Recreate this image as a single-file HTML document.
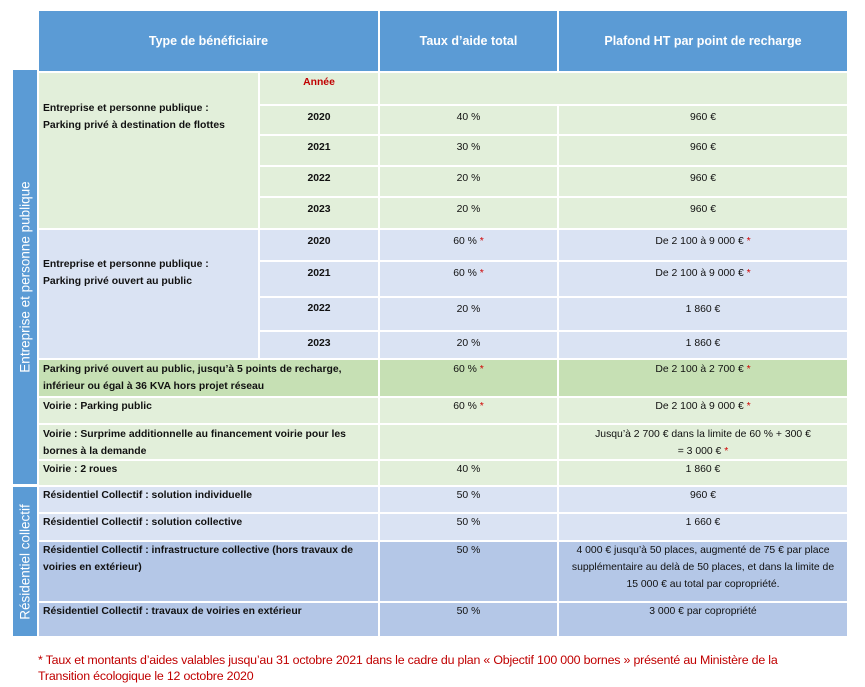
<!DOCTYPE html>
<html><head><meta charset="utf-8"><style>
body{margin:0;width:865px;height:687px;background:#fff;position:relative;overflow:hidden;font-family:"Liberation Sans",sans-serif}
.c{position:absolute;box-sizing:border-box;border:1px solid #fff;font-size:10.4px;color:#111;line-height:17px;padding:3px 0 0 4px;white-space:nowrap}
.b{font-weight:bold}
.ct{text-align:center;padding-left:0}
.h{background:#5b9bd5;color:#fff;font-weight:bold;font-size:12.5px;text-align:center;line-height:60px;padding:0}
.g{background:#e2efda}.dg{background:#c6e0b4}.lb{background:#dae3f3}.db{background:#b4c7e7}
.s{color:#d00000}
.side{position:absolute;background:#5b9bd5;color:#fff;font-size:13.5px}
.side span{position:absolute;left:50%;top:50%;transform:translate(-50%,-50%) rotate(-90deg);white-space:nowrap}
.fn{position:absolute;left:38px;color:#c00000;font-size:12.4px;white-space:nowrap;letter-spacing:-0.2px}
</style></head><body>
<div class="c h" style="left:38px;top:10px;width:341px;height:62px">Type de bénéficiaire</div>
<div class="c h" style="left:379px;top:10px;width:179px;height:62px">Taux d’aide total</div>
<div class="c h" style="left:558px;top:10px;width:290px;height:62px">Plafond HT par point de recharge</div>

<div class="side" style="left:13px;top:70px;width:24px;height:414px"><span>Entreprise et personne publique</span></div>
<div class="side" style="left:13px;top:487px;width:24px;height:149px"><span>Résidentiel collectif</span></div>

<div class="c g b" style="left:38px;top:72px;width:221px;height:157px;padding-top:27px">Entreprise et personne publique :<br>Parking privé à destination de flottes</div>
<div class="c g b ct s" style="left:259px;top:72px;width:120px;height:33px;padding-top:1px;color:#c00000">Année</div>
<div class="c g" style="left:379px;top:72px;width:469px;height:33px"></div>
<div class="c g b ct" style="left:259px;top:105px;width:120px;height:30px">2020</div>
<div class="c g ct" style="left:379px;top:105px;width:179px;height:30px">40 %</div>
<div class="c g ct" style="left:558px;top:105px;width:290px;height:30px">960 €</div>
<div class="c g b ct" style="left:259px;top:135px;width:120px;height:31px">2021</div>
<div class="c g ct" style="left:379px;top:135px;width:179px;height:31px">30 %</div>
<div class="c g ct" style="left:558px;top:135px;width:290px;height:31px">960 €</div>
<div class="c g b ct" style="left:259px;top:166px;width:120px;height:31px">2022</div>
<div class="c g ct" style="left:379px;top:166px;width:179px;height:31px">20 %</div>
<div class="c g ct" style="left:558px;top:166px;width:290px;height:31px">960 €</div>
<div class="c g b ct" style="left:259px;top:197px;width:120px;height:32px">2023</div>
<div class="c g ct" style="left:379px;top:197px;width:179px;height:32px">20 %</div>
<div class="c g ct" style="left:558px;top:197px;width:290px;height:32px">960 €</div>

<div class="c lb b" style="left:38px;top:229px;width:221px;height:130px;padding-top:26px">Entreprise et personne publique :<br>Parking privé ouvert au public</div>
<div class="c lb b ct" style="left:259px;top:229px;width:120px;height:32px">2020</div>
<div class="c lb ct" style="left:379px;top:229px;width:179px;height:32px">60 % <span class="s">*</span></div>
<div class="c lb ct" style="left:558px;top:229px;width:290px;height:32px">De 2 100 à 9 000 € <span class="s">*</span></div>
<div class="c lb b ct" style="left:259px;top:261px;width:120px;height:36px">2021</div>
<div class="c lb ct" style="left:379px;top:261px;width:179px;height:36px">60 % <span class="s">*</span></div>
<div class="c lb ct" style="left:558px;top:261px;width:290px;height:36px">De 2 100 à 9 000 € <span class="s">*</span></div>
<div class="c lb b ct" style="left:259px;top:297px;width:120px;height:34px;padding-top:2px">2022</div>
<div class="c lb ct" style="left:379px;top:297px;width:179px;height:34px">20 %</div>
<div class="c lb ct" style="left:558px;top:297px;width:290px;height:34px">1 860 €</div>
<div class="c lb b ct" style="left:259px;top:331px;width:120px;height:28px">2023</div>
<div class="c lb ct" style="left:379px;top:331px;width:179px;height:28px">20 %</div>
<div class="c lb ct" style="left:558px;top:331px;width:290px;height:28px">1 860 €</div>

<div class="c dg b" style="left:38px;top:359px;width:341px;height:38px;padding-top:1px">Parking privé ouvert au public, jusqu’à 5 points de recharge,<br>inférieur ou égal à 36 KVA hors projet réseau</div>
<div class="c dg ct" style="left:379px;top:359px;width:179px;height:38px;padding-top:1px">60 % <span class="s">*</span></div>
<div class="c dg ct" style="left:558px;top:359px;width:290px;height:38px;padding-top:1px">De 2 100 à 2 700 € <span class="s">*</span></div>

<div class="c g b" style="left:38px;top:397px;width:341px;height:27px;padding-top:0">Voirie : Parking public</div>
<div class="c g ct" style="left:379px;top:397px;width:179px;height:27px;padding-top:0">60 % <span class="s">*</span></div>
<div class="c g ct" style="left:558px;top:397px;width:290px;height:27px;padding-top:0">De 2 100 à 9 000 € <span class="s">*</span></div>

<div class="c g b" style="left:38px;top:424px;width:341px;height:36px;padding-top:1px">Voirie : Surprime additionnelle  au financement voirie pour  les<br>bornes à la demande</div>
<div class="c g ct" style="left:379px;top:424px;width:179px;height:36px"></div>
<div class="c g ct" style="left:558px;top:424px;width:290px;height:36px;padding-top:1px">Jusqu’à 2 700 € dans la limite de 60 % + 300 €<br>= 3 000 € <span class="s">*</span></div>

<div class="c g b" style="left:38px;top:460px;width:341px;height:26px;padding-top:0">Voirie : 2 roues</div>
<div class="c g ct" style="left:379px;top:460px;width:179px;height:26px;padding-top:0">40 %</div>
<div class="c g ct" style="left:558px;top:460px;width:290px;height:26px;padding-top:0">1 860 €</div>

<div class="c lb b" style="left:38px;top:486px;width:341px;height:27px;padding-top:0">Résidentiel Collectif : solution individuelle</div>
<div class="c lb ct" style="left:379px;top:486px;width:179px;height:27px;padding-top:0">50 %</div>
<div class="c lb ct" style="left:558px;top:486px;width:290px;height:27px;padding-top:0">960 €</div>

<div class="c lb b" style="left:38px;top:513px;width:341px;height:28px;padding-top:0">Résidentiel Collectif : solution collective</div>
<div class="c lb ct" style="left:379px;top:513px;width:179px;height:28px;padding-top:0">50 %</div>
<div class="c lb ct" style="left:558px;top:513px;width:290px;height:28px;padding-top:0">1 660 €</div>

<div class="c db b" style="left:38px;top:541px;width:341px;height:61px;padding-top:0">Résidentiel Collectif : infrastructure collective (hors travaux de<br>voiries en extérieur)</div>
<div class="c db ct" style="left:379px;top:541px;width:179px;height:61px;padding-top:0">50 %</div>
<div class="c db ct" style="left:558px;top:541px;width:290px;height:61px;padding-top:0">4 000 € jusqu’à 50 places, augmenté de 75 € par place<br>supplémentaire au delà de 50 places, et dans la limite de<br>15 000 € au total par copropriété.</div>

<div class="c db b" style="left:38px;top:602px;width:341px;height:35px;padding-top:0">Résidentiel Collectif : travaux de voiries en extérieur</div>
<div class="c db ct" style="left:379px;top:602px;width:179px;height:35px;padding-top:0">50 %</div>
<div class="c db ct" style="left:558px;top:602px;width:290px;height:35px;padding-top:0">3 000 € par copropriété</div>

<div class="fn" style="top:653px">* Taux et montants d’aides valables jusqu’au 31 octobre 2021 dans le cadre du plan « Objectif 100 000 bornes » présenté au Ministère de la</div>
<div class="fn" style="top:669px">Transition écologique le 12 octobre 2020</div>
</body></html>
